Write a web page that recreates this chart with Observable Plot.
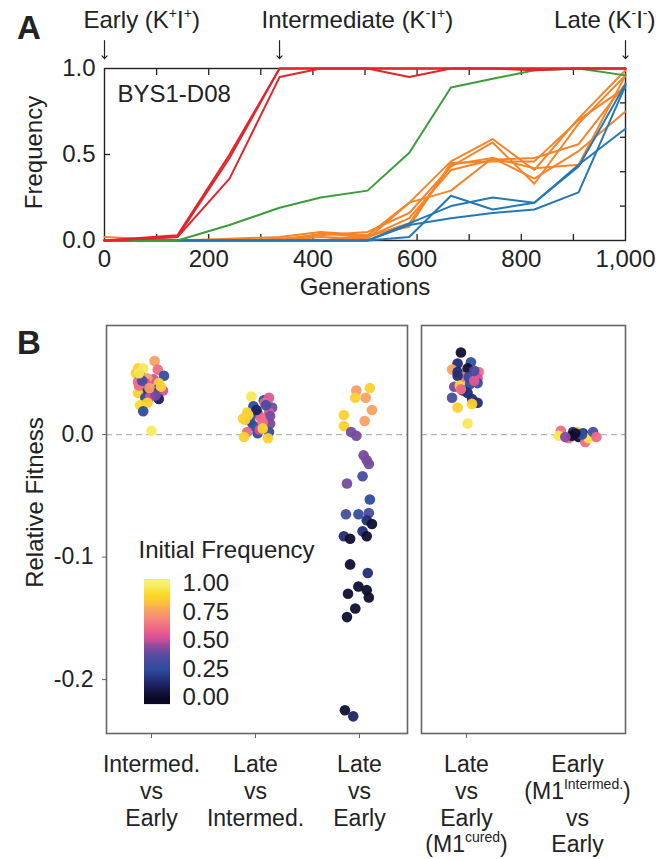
<!DOCTYPE html>
<html><head><meta charset="utf-8">
<script src="https://cdn.jsdelivr.net/npm/d3@7"></script>
<script src="https://cdn.jsdelivr.net/npm/@observablehq/plot@0.6"></script>
<style>
body{margin:0;background:#fff;}
#root{position:relative;width:656px;height:859px;overflow:hidden;font-family:"Liberation Sans",Arial,sans-serif;color:#222;background:#fff;}
#root > *{position:absolute;}
.letter{font-weight:bold;font-size:33px;line-height:33px;}
</style></head><body><div id="root"></div>
<script>
// ---------------- Panel A data ----------------
const generations = [0, 140, 240, 336, 415, 505, 585, 665, 745, 825, 910, 1000];
const redLineages = [
  [0, 0.03, 0.50, 1.00, 1.00, 1.00, 1.00, 1.00, 1.00, 1.00, 1.00, 1.00],
  [0, 0.02, 0.48, 1.00, 1.00, 1.00, 0.95, 1.00, 1.00, 0.99, 1.00, 1.00],
  [0, 0.02, 0.36, 0.95, 1.00, 1.00, 1.00, 1.00, 1.00, 1.00, 1.00, 1.00]
];
const greenLineages = [
  [0, 0, 0.09, 0.19, 0.25, 0.29, 0.51, 0.89, 0.94, 0.99, 1.00, 0.96]
];
const orangeLineages = [
  [0.02, 0, 0.01, 0.02, 0.05, 0.03, 0.22, 0.46, 0.59, 0.41, 0.71, 0.99],
  [0, 0, 0, 0.01, 0.03, 0.05, 0.16, 0.43, 0.57, 0.33, 0.68, 0.96],
  [0, 0, 0, 0, 0.04, 0.02, 0.13, 0.41, 0.47, 0.48, 0.56, 0.91],
  [0, 0, 0, 0, 0.02, 0.01, 0.22, 0.29, 0.48, 0.36, 0.52, 0.75],
  [0, 0, 0, 0, 0, 0.03, 0.08, 0.45, 0.46, 0.46, 0.70, 0.89],
  [0, 0, 0, 0, 0, 0.02, 0.10, 0.44, 0.48, 0.42, 0.44, 0.96]
];
const blueLineages = [
  [0, 0, 0, 0, 0, 0, 0.02, 0.26, 0.18, 0.22, 0.43, 0.91],
  [0, 0, 0, 0, 0, 0, 0.10, 0.20, 0.25, 0.22, 0.44, 0.65],
  [0, 0, 0, 0, 0, 0, 0.09, 0.13, 0.16, 0.18, 0.28, 0.90]
];
const stageNames = ["Early (K^{+}I^{+})", "Intermediate (K^{-}I^{+})", "Late (K^{-}I^{-})"];
const stageGenerations = [0, 336, 1000];
const genTickLabels = [0, 200, 400, 600, 800, 1000];
const genMinorTicks = [100, 200, 300, 400, 500, 600, 700, 800, 900];
const freqTickLabels = [0, 0.5, 1];
const freqRightTicks = [0.2, 0.4, 0.6, 0.8];
const populationName = "BYS1-D08";

// ---------------- Panel B data ----------------
const comparisonLabels = ["Intermed.\nvs\nEarly", "Late\nvs\nIntermed.", "Late\nvs\nEarly"];
const controlLabels = ["Late\nvs\nEarly\n(M1^{cured})", "Early\n(M1^{Intermed.})\nvs\nEarly"];
const fitnessTicks = [0, -0.1, -0.2];
const legendTicks = [0, 0.25, 0.5, 0.75, 1];

// Intermed. vs Early
const fitIE  = [0.060,0.054,0.054,0.053,0.050,0.048,0.048,0.045,0.043,0.046,0.042,0.042,0.036,0.037,0.036,0.034,0.034,0.030,0.029,0.031,0.024,0.026,0.019,0.003,0.040,0.039,0.044,0.050,0.032,0.038];
const freqIE = [0.76,0.88,0.97,0.62,0.88,0.42,0.27,0.52,0.62,0.76,0.52,0.88,0.15,0.33,0.52,0.88,0.12,0.25,0.10,0.52,0.92,0.88,0.25,0.98,0.62,0.88,0.33,0.97,0.42,0.75];
const jitIE  = [0.03,-0.13,-0.08,0.06,-0.15,-0.11,0.12,0.02,-0.13,-0.04,-0.06,0.07,-0.06,0.06,0.11,-0.13,0.01,-0.06,0.07,-0.01,-0.11,-0.04,-0.08,0,-0.12,0.09,-0.09,-0.12,0.04,-0.02];
// Late vs Intermed.
const fitLI  = [0.031,0.028,0.030,0.023,0.022,0.018,0.017,0.018,0.015,0.013,0.011,0.014,0.009,0.007,0.002,0.001,0.002,-0.002,-0.003,0.004,0.020,0.026,0.010,0.005,0.016,0.024,0.012];
const freqLI = [0.97,0.27,0.55,0.25,0.42,0.88,0.25,0.55,0.42,0.88,0.25,0.62,0.42,0.25,0.62,0.25,0.27,0.88,0.88,0.52,0.12,0.62,0.62,0.88,0.88,0.33,0.88];
const jitLI  = [-0.04,0.08,0.13,-0.02,0.16,-0.08,0.02,0.13,0.14,-0.12,-0.05,0.05,0.14,-0.02,-0.08,0.02,0.13,-0.11,0.12,0.04,0.01,0.09,0.07,0.07,-0.07,0.10,-0.10];
// Late vs Early
const fitLE  = [0.036,0.038,0.030,0.030,0.020,0.016,0.007,0.011,0.002,-0.001,-0.017,-0.021,-0.024,-0.034,-0.040,-0.053,-0.065,-0.065,-0.064,-0.070,-0.073,-0.083,-0.085,-0.079,-0.083,-0.106,-0.113,-0.124,-0.130,-0.127,-0.133,-0.142,-0.149,-0.225,-0.230];
const freqLE = [0.75,0.88,0.88,0.76,0.76,0.88,0.88,0.76,0.42,0.42,0.42,0.42,0.42,0.33,0.42,0.25,0.33,0.27,0.33,0.15,0.02,0.15,0.02,0.15,0.02,0.02,0.15,0.02,0.02,0.02,0.02,0.02,0.02,0.02,0.12];
const jitLE  = [-0.03,0.10,-0.04,0.06,0.12,-0.15,-0.15,0.05,-0.08,-0.03,0.04,0.07,0.09,0.03,-0.12,0.10,-0.13,-0.01,0.09,0.07,0.12,-0.15,-0.09,0.03,0.07,-0.09,0.08,-0.01,-0.11,0.07,0.09,-0.04,-0.12,-0.14,-0.06];
// Late vs Early (M1 cured)
const fitLEc  = [0.067,0.059,0.058,0.054,0.053,0.051,0.051,0.046,0.047,0.047,0.048,0.041,0.042,0.039,0.040,0.036,0.034,0.030,0.029,0.026,0.025,0.022,0.009,0.044,0.037,0.052];
const freqLEc = [0.02,0.27,0.15,0.02,0.76,0.15,0.62,0.52,0.62,0.25,0.15,0.25,0.27,0.42,0.88,0.15,0.15,0.33,0.15,0.15,0.88,0.88,0.97,0.55,0.62,0.33];
const jitLEc  = [-0.05,0.04,-0.08,0.01,-0.13,-0.08,0.11,0.10,-0.03,0.02,-0.08,0.03,0.10,-0.11,-0.06,-0.03,0.01,-0.13,0.05,0.10,0.05,-0.08,0.01,0.07,-0.05,0.07];
// Early (M1 Intermed.) vs Early
const fitEE  = [0.003,-0.001,-0.003,0.002,-0.002,0.002,0.001,-0.006,-0.003,0.002,-0.002,0.000,-0.001,0.001,-0.002];
const freqEE = [0.62,0.97,0.62,0.15,0.02,0.88,0.15,0.62,0.95,0.33,0.62,0.25,0.02,0.02,0.45];
const jitEE  = [-0.15,-0.17,-0.08,-0.04,0.01,0,0.05,0.07,0.10,0.14,0.17,0.04,-0.05,-0.02,-0.11];

// ---------------- styles ----------------
const FONT = "'Liberation Sans', Arial, sans-serif";
const lineColors = {red: "#e3242b", green: "#3a9d3a", orange: "#f5842a", blue: "#2678b5"};
const freqStops  = [0, 0.10, 0.25, 0.38, 0.45, 0.52, 0.60, 0.70, 0.78, 0.86, 0.92, 1.0];
const freqColors = ["#0c0b26","#1b1e5c","#2f4c9e","#5a4ca0","#8a4b9e","#d4509c","#ee6489","#f38a79","#f9a85a","#fdcd30","#fbdd2c","#f6ef72"];
const colorScale = {type: "linear", domain: freqStops, range: freqColors, clamp: true};

const root = document.getElementById("root");
const NS = "http://www.w3.org/2000/svg";

function supify(svg, fs) {
  const shift = Math.round(fs * 0.42);
  svg.querySelectorAll("text, tspan").forEach(el => {
    if (el.childElementCount) return;
    const t = el.textContent;
    if (!t.includes("^{")) return;
    el.textContent = "";
    let raised = false;
    for (const p of t.split(/(\^\{[^}]*\})/)) {
      if (!p) continue;
      const ts = document.createElementNS(NS, "tspan");
      if (p.startsWith("^{")) {
        ts.textContent = p.slice(2, -1);
        ts.setAttribute("font-size", Math.round(fs * 0.6));
        if (!raised) ts.setAttribute("dy", -shift);
        raised = true;
      } else {
        ts.textContent = p;
        if (raised) ts.setAttribute("dy", shift);
        raised = false;
      }
      el.appendChild(ts);
    }
  });
}
function place(el, left, top) { el.style.left = left + "px"; el.style.top = top + "px"; root.appendChild(el); }

// ---------------- Panel A ----------------
function lineRows(group, lineages) {
  return lineages.flatMap((vals, j) => vals.map((f, i) => ({group, id: group + j, gen: generations[i], freq: f})));
}
const rowsOrange = lineRows("orange", orangeLineages);
const rowsBlue = lineRows("blue", blueLineages);
const rowsGreen = lineRows("green", greenLineages);
const rowsRed = lineRows("red", redLineages);

const plotA = Plot.plot({
  width: 656, height: 300,
  marginLeft: 104, marginRight: 31, marginTop: 68, marginBottom: 60,
  style: {fontFamily: FONT, fontSize: "24px", background: "transparent", color: "#222", overflow: "visible"},
  x: {domain: [0, 1000]},
  y: {domain: [0, 1]},
  marks: [
    Plot.frame({stroke: "#222", strokeWidth: 1.4}),
    Plot.axisX({anchor: "bottom", ticks: genTickLabels, tickSize: 0, tickPadding: 9, tickFormat: d3.format(","), label: null, fontSize: 24}),
    Plot.axisX({anchor: "bottom", ticks: genMinorTicks, tickSize: 6, insetBottom: 6, fill: "none", label: null, strokeWidth: 1.3}),
    Plot.axisX({anchor: "top", ticks: genMinorTicks, tickSize: 6, insetTop: 6, fill: "none", label: null, strokeWidth: 1.3}),
    Plot.axisY({anchor: "left", ticks: freqTickLabels, tickSize: 0, tickPadding: 9, tickFormat: d => d.toFixed(1), label: null, fontSize: 24}),
    Plot.axisY({anchor: "left", ticks: [0.5], tickSize: 6, insetLeft: 6, fill: "none", label: null, strokeWidth: 1.3}),
    Plot.axisY({anchor: "right", ticks: freqRightTicks, tickSize: 6, insetRight: 6, fill: "none", label: null, strokeWidth: 1.3}),
    Plot.line(rowsOrange, {x: "gen", y: "freq", z: "id", stroke: lineColors.orange, strokeWidth: 2}),
    Plot.line(rowsBlue, {x: "gen", y: "freq", z: "id", stroke: lineColors.blue, strokeWidth: 2}),
    Plot.line(rowsGreen, {x: "gen", y: "freq", z: "id", stroke: lineColors.green, strokeWidth: 2}),
    Plot.line(rowsRed, {x: "gen", y: "freq", z: "id", stroke: lineColors.red, strokeWidth: 2}),
    Plot.text([populationName], {frameAnchor: "top-left", textAnchor: "start", lineAnchor: "top", dx: 13, dy: 16, fontSize: 24}),
    Plot.text(["Frequency"], {frameAnchor: "left", textAnchor: "middle", lineAnchor: "middle", rotate: -90, dx: -70, dy: -2, fontSize: 24}),
    Plot.text(["Generations"], {frameAnchor: "bottom", lineAnchor: "middle", dy: 47, fontSize: 24}),
    Plot.text([0], {x: i => stageGenerations[i], text: i => stageNames[i], frameAnchor: "top", textAnchor: "start", lineAnchor: "middle", dx: -21, dy: -48, fontSize: 24}),
    Plot.text([1], {x: i => stageGenerations[i], text: i => stageNames[i], frameAnchor: "top", textAnchor: "start", lineAnchor: "middle", dx: -18, dy: -48, fontSize: 24}),
    Plot.text([2], {x: i => stageGenerations[i], text: i => stageNames[i], frameAnchor: "top", textAnchor: "end", lineAnchor: "middle", dx: 30, dy: -48, fontSize: 24}),
    Plot.vector(stageGenerations, {x: d => d, frameAnchor: "top", length: 18, rotate: 180, anchor: "end", dy: -10, r: 2.5, stroke: "#222", strokeWidth: 1.2})
  ]
});
supify(plotA, 24);
place(plotA, 0, 0);

// ---------------- Panel B ----------------
function pointRows(fit, freq, jit, idx) {
  return fit.map((f, i) => ({fitness: f, freq: freq[i], pos: idx + jit[i]}));
}
const rowsLeft = [
  ...pointRows(fitIE, freqIE, jitIE, 0),
  ...pointRows(fitLI, freqLI, jitLI, 1),
  ...pointRows(fitLE, freqLE, jitLE, 2)
];
const rowsRight = [
  ...pointRows(fitLEc, freqLEc, jitLEc, 0),
  ...pointRows(fitEE, freqEE, jitEE, 1)
];
const yB = {domain: [-0.244, 0.089]};
const commonStyle = {fontFamily: FONT, fontSize: "23px", background: "transparent", color: "#222", overflow: "visible"};

const plotBL = Plot.plot({
  width: 415, height: 559,
  marginLeft: 106, marginRight: 8, marginTop: 25, marginBottom: 126,
  style: commonStyle,
  x: {type: "linear", domain: [-0.433, 2.462]},
  y: yB,
  color: colorScale,
  marks: [
    Plot.ruleY([0], {stroke: "#b4b4b4", strokeDasharray: "6,4", strokeWidth: 1.3}),
    Plot.frame({stroke: "#666", strokeWidth: 1.6}),
    Plot.axisY({ticks: fitnessTicks, tickSize: 4, tickPadding: 9, tickFormat: d => d.toFixed(1), label: null, stroke: "#666", fontSize: 23}),
    Plot.axisX({ticks: [0, 1, 2], tickSize: 5, fill: "none", label: null, stroke: "#666"}),
    Plot.text(comparisonLabels, {x: (d, i) => i, text: d => d, frameAnchor: "bottom", lineAnchor: "top", dy: 20, lineHeight: 1.16, fontSize: 23}),
    Plot.text(["Relative Fitness"], {frameAnchor: "left", textAnchor: "middle", lineAnchor: "middle", rotate: -90, dx: -71, dy: -27, fontSize: 24}),
    Plot.dot(rowsLeft, {x: "pos", y: "fitness", fill: "freq", r: 5.3, stroke: "none", fillOpacity: 0.95})
  ]
});
supify(plotBL, 23);
place(plotBL, 0, 300);

const plotBR = Plot.plot({
  width: 241, height: 559,
  marginLeft: 6, marginRight: 31, marginTop: 25, marginBottom: 126,
  style: commonStyle,
  x: {type: "linear", domain: [-0.405, 1.432]},
  y: {...yB, axis: null},
  color: colorScale,
  marks: [
    Plot.ruleY([0], {stroke: "#b4b4b4", strokeDasharray: "6,4", strokeWidth: 1.3}),
    Plot.frame({stroke: "#666", strokeWidth: 1.6}),
    Plot.axisX({ticks: [0], tickSize: 5, fill: "none", label: null, stroke: "#666"}),
    Plot.text(controlLabels, {x: (d, i) => i, text: d => d, frameAnchor: "bottom", lineAnchor: "top", dy: 20, lineHeight: 1.16, fontSize: 23}),
    Plot.dot(rowsRight, {x: "pos", y: "fitness", fill: "freq", r: 5.3, stroke: "none", fillOpacity: 0.95})
  ]
});
supify(plotBR, 23);
place(plotBR, 415, 300);

// ---------------- Legend (vertical colour bar) ----------------
const legendSteps = d3.range(-0.05, 1.036, 0.004);
const legend = Plot.plot({
  width: 200, height: 180,
  marginLeft: 24, marginRight: 150, marginTop: 49, marginBottom: 7,
  style: {fontFamily: FONT, fontSize: "24px", background: "transparent", color: "#222", overflow: "visible"},
  x: {domain: [0, 1], axis: null},
  y: {domain: [-0.05, 1.035]},
  color: colorScale,
  marks: [
    Plot.ruleY(legendSteps, {y: d => d, stroke: d => d, strokeWidth: 1.2}),
    Plot.axisY({anchor: "right", ticks: legendTicks, tickSize: 0, tickPadding: 12, tickFormat: d => d.toFixed(2), label: null, fontSize: 24}),
    Plot.text(["Initial Frequency"], {frameAnchor: "top-left", textAnchor: "start", lineAnchor: "middle", dx: -6, dy: -29, fontSize: 24})
  ]
});
place(legend, 120, 530);

// ---------------- Panel letters ----------------
const letterA = document.createElement("div"); letterA.className = "letter"; letterA.textContent = "A";
place(letterA, 17, 11);
const letterB = document.createElement("div"); letterB.className = "letter"; letterB.textContent = "B";
place(letterB, 17, 326);
</script></body></html>
